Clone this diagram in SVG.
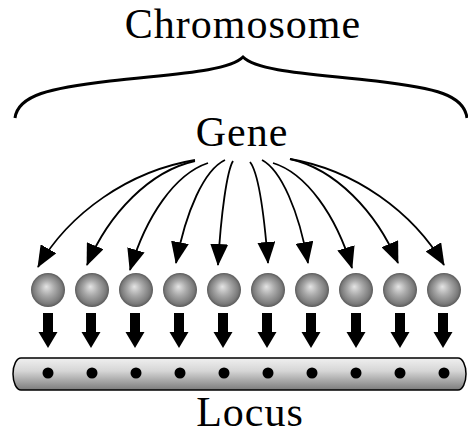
<svg xmlns="http://www.w3.org/2000/svg" xmlns:xlink="http://www.w3.org/1999/xlink" width="468" height="434" viewBox="0 0 468 434">
<style>
.lbl{font-family:"Liberation Serif","Times New Roman",serif;font-size:42px;fill:#000;text-anchor:middle;letter-spacing:1px}
.curve{fill:none;stroke:#000;stroke-width:1.8;marker-end:url(#head)}
.ball{fill:url(#sph)}
.dot{fill:#000}
.blk{fill:#000}
</style>
<defs>
<marker id="head" markerUnits="userSpaceOnUse" markerWidth="22" markerHeight="18" viewBox="0 0 22 18" refX="21" refY="9" orient="auto">
<path d="M0,0 L22,9 L0,18 z" fill="#000"/>
</marker>
<radialGradient id="sph" cx="0.5" cy="0.5" r="0.5" fx="0.45" fy="0.4">
<stop offset="0" stop-color="#e4e4e4"/>
<stop offset="0.45" stop-color="#a8a8a8"/>
<stop offset="0.85" stop-color="#7a7a7a"/>
<stop offset="1" stop-color="#5a5a5a"/>
</radialGradient>
<linearGradient id="bar" x1="0" y1="0" x2="0" y2="1">
<stop offset="0" stop-color="#f0f0f0"/>
<stop offset="0.4" stop-color="#d6d6d6"/>
<stop offset="1" stop-color="#7c7c7c"/>
</linearGradient>
<path id="blockArrow" d="M-5,313 H5 V332 H9.5 L0,348 L-9.5,332 H-5 Z"/>
</defs>
<rect width="468" height="434" fill="#fff"/>

<g id="chromosome">
<text class="lbl" x="243" y="38">Chromosome</text>
<path d="M15,118 C18,95 50,88 110,81 C170,74 228,72 243,57 C258,72 316,74 376,81 C436,88 464,95 467,118" fill="none" stroke="#000" stroke-width="3"/>
</g>

<g id="gene">
<text class="lbl" x="242" y="146">Gene</text>
</g>

<g id="genes">
<g id="g1"><circle class="ball" cx="48" cy="290" r="17"/></g>
<g id="g2"><circle class="ball" cx="92" cy="290" r="17"/></g>
<g id="g3"><circle class="ball" cx="136" cy="290" r="17"/></g>
<g id="g4"><circle class="ball" cx="180" cy="290" r="17"/></g>
<g id="g5"><circle class="ball" cx="224" cy="290" r="17"/></g>
<g id="g6"><circle class="ball" cx="268" cy="290" r="17"/></g>
<g id="g7"><circle class="ball" cx="312" cy="290" r="17"/></g>
<g id="g8"><circle class="ball" cx="356" cy="290" r="17"/></g>
<g id="g9"><circle class="ball" cx="400" cy="290" r="17"/></g>
<g id="g10"><circle class="ball" cx="444" cy="290" r="17"/></g>
</g>

<g id="locus-bar">
<rect x="13" y="358" width="453" height="32" rx="8" ry="16" fill="url(#bar)" stroke="#000" stroke-width="1.5"/>
<circle class="dot" cx="48" cy="373" r="5.5"/>
<circle class="dot" cx="92" cy="373" r="5.5"/>
<circle class="dot" cx="136" cy="373" r="5.5"/>
<circle class="dot" cx="180" cy="373" r="5.5"/>
<circle class="dot" cx="224" cy="373" r="5.5"/>
<circle class="dot" cx="268" cy="373" r="5.5"/>
<circle class="dot" cx="312" cy="373" r="5.5"/>
<circle class="dot" cx="356" cy="373" r="5.5"/>
<circle class="dot" cx="400" cy="373" r="5.5"/>
<circle class="dot" cx="444" cy="373" r="5.5"/>
</g>

<g id="locus">
<text class="lbl" x="250" y="426">Locus</text>
</g>

<g id="connectors">
<path class="curve" d="M195,160 C129,171 69,213 38,267"/>
<path class="curve" d="M195,161 C150,171 109,213 87,265"/>
<path class="curve" d="M208,163 C175,174 146,216 130,270"/>
<path class="curve" d="M225,160 C204,170 186,211 176,263"/>
<path class="curve" d="M233,161 C227,171 221,213 218,265"/>
<path class="curve" d="M250,162 C258,172 264,212 268,263"/>
<path class="curve" d="M262,160 C281,170 299,211 308,263"/>
<path class="curve" d="M273,163 C306,173 336,215 352,268"/>
<path class="curve" d="M290,159 C335,169 376,211 398,263"/>
<path class="curve" d="M290,159 C355,170 413,212 444,265"/>
<use xlink:href="#blockArrow" class="blk" x="48"/>
<use xlink:href="#blockArrow" class="blk" x="91"/>
<use xlink:href="#blockArrow" class="blk" x="135"/>
<use xlink:href="#blockArrow" class="blk" x="179"/>
<use xlink:href="#blockArrow" class="blk" x="223"/>
<use xlink:href="#blockArrow" class="blk" x="267"/>
<use xlink:href="#blockArrow" class="blk" x="311"/>
<use xlink:href="#blockArrow" class="blk" x="356"/>
<use xlink:href="#blockArrow" class="blk" x="400"/>
<use xlink:href="#blockArrow" class="blk" x="443"/>
</g>
</svg>
